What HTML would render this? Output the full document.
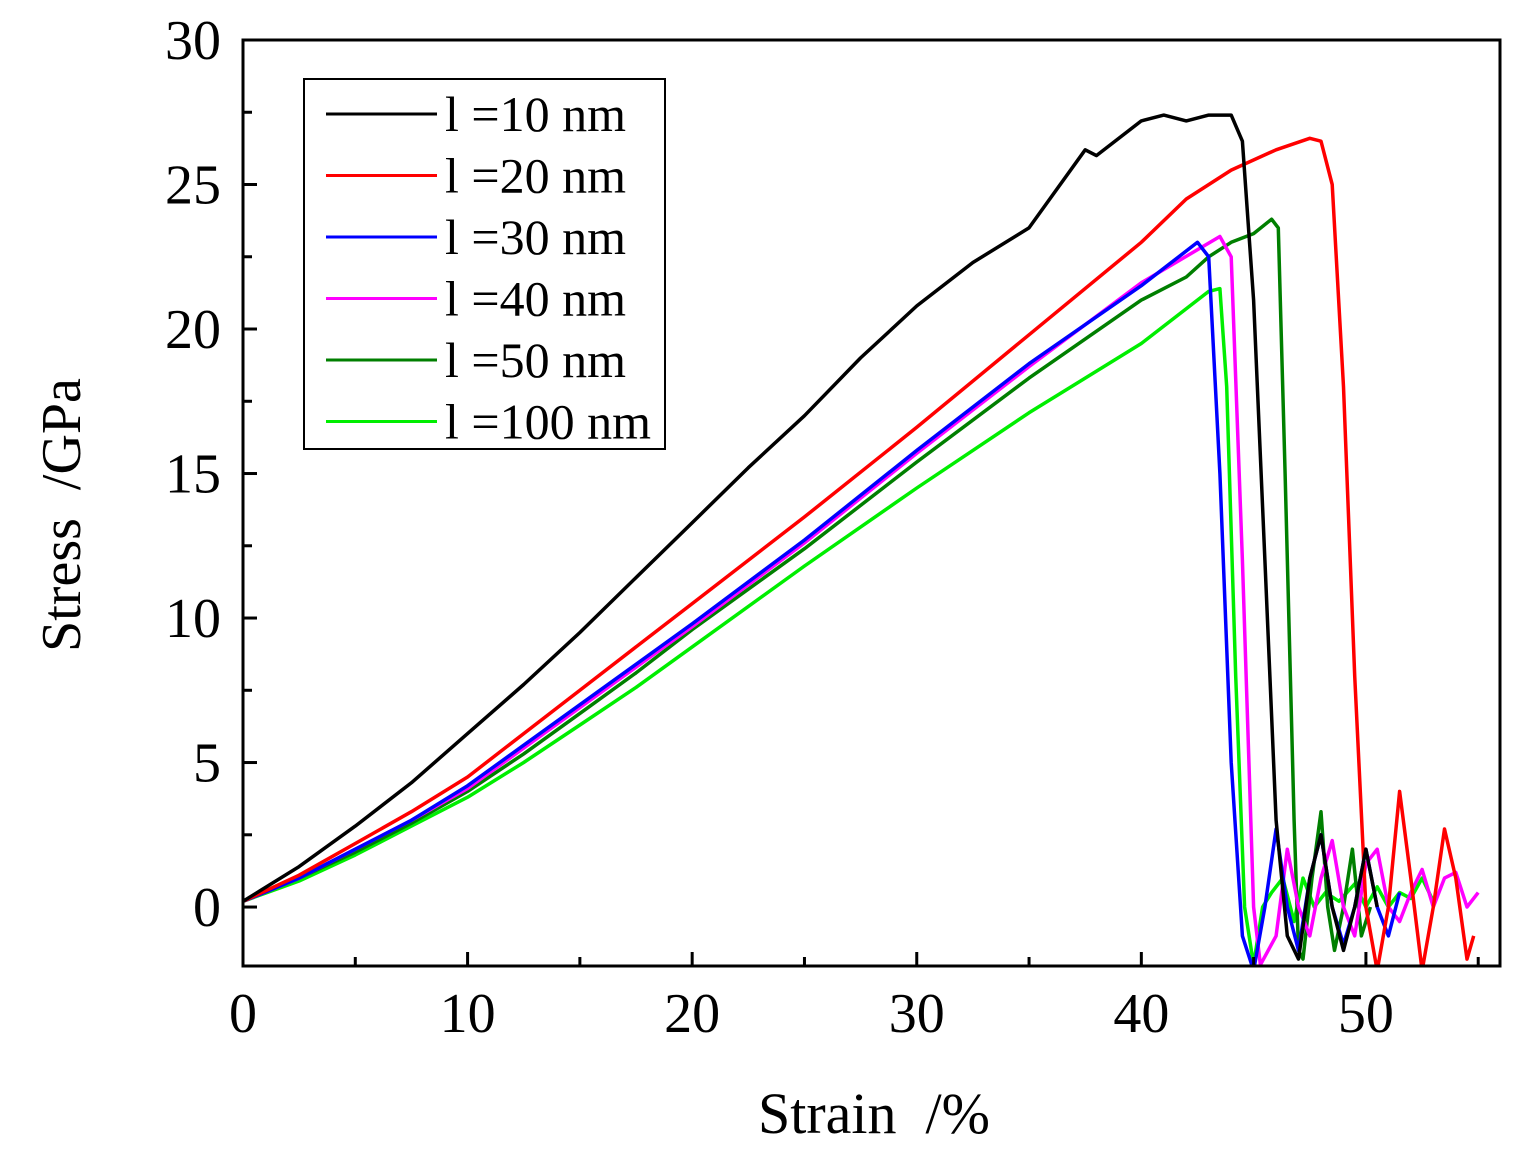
<!DOCTYPE html>
<html><head><meta charset="utf-8"><style>
body{margin:0;background:#fff;}
svg text{font-family:"Liberation Serif",serif;white-space:pre;}
</style></head><body>
<svg id="chart" width="1536" height="1166" xmlns="http://www.w3.org/2000/svg">
<defs><clipPath id="pc"><rect x="243" y="40" width="1257" height="926"/></clipPath></defs>
<g id="series" clip-path="url(#pc)"></g>
<rect x="243" y="40" width="1257" height="926" fill="none" stroke="#000" stroke-width="3"/>
<g id="axes"></g>
<text x="80" y="515" font-size="56" text-anchor="middle" transform="rotate(-90 80 515)" xml:space="preserve">Stress  /GPa</text>
<text x="874" y="1133" font-size="58" text-anchor="middle" xml:space="preserve">Strain  /%</text>
<rect x="304" y="79" width="361" height="370" fill="#fff" stroke="#000" stroke-width="2"/>
<g id="legend"></g>
</svg>
<script>
const seriesNames=["l =10 nm","l =20 nm","l =30 nm","l =40 nm","l =50 nm","l =100 nm"];
const seriesColors=["#000000","#ff0000","#0000ff","#ff00ff","#007f00","#00ee00"];
const s10=[[0,0.2],[2.5,1.4],[5,2.8],[7.5,4.3],[10,6],[12.5,7.7],[15,9.5],[17.5,11.4],[20,13.3],[22.5,15.2],[25,17],[27.5,19],[30,20.8],[32.5,22.3],[35,23.5],[37.5,26.2],[38,26],[40,27.2],[41,27.4],[42,27.2],[43,27.4],[44,27.4],[44.5,26.5],[45,21],[45.5,12],[46,3],[46.5,-1],[47,-1.8],[47.5,1],[48,2.5],[48.5,0],[49,-1.5],[49.5,0],[50,2],[50.5,0]];
const s20=[[0,0.2],[2.5,1.1],[5,2.2],[7.5,3.3],[10,4.5],[12.5,6],[15,7.5],[17.5,9],[20,10.5],[25,13.5],[30,16.6],[35,19.8],[40,23],[42,24.5],[44,25.5],[46,26.2],[47.5,26.6],[48,26.5],[48.5,25],[49,18],[49.5,8],[50,0],[50.5,-2.2],[51,0],[51.5,4],[52,1],[52.5,-2.2],[53,0],[53.5,2.7],[54,1],[54.5,-1.8],[54.8,-1]];
const s30=[[0,0.2],[2.5,1],[5,2],[7.5,3],[10,4.2],[12.5,5.6],[15,7],[17.5,8.4],[20,9.8],[25,12.7],[30,15.8],[35,18.8],[40,21.5],[42.5,23],[43,22.5],[43.5,15],[44,5],[44.5,-1],[45,-2.2],[45.5,0],[46,2.7],[46.5,0],[47,-1.5],[47.5,1],[48,2.5],[48.5,0],[49,-1.3],[49.5,0],[50,2],[50.5,0],[51,-1],[51.5,0.5]];
const s40=[[0,0.2],[2.5,1],[5,2],[7.5,3],[10,4.1],[12.5,5.5],[15,6.9],[17.5,8.3],[20,9.7],[25,12.6],[30,15.7],[35,18.7],[40,21.6],[43.5,23.2],[44,22.5],[44.5,12],[45,0],[45.3,-2],[46,-1],[46.5,2],[47,0],[47.5,-1],[48,1],[48.5,2.3],[49,0],[49.5,-1],[50,1.5],[50.5,2],[51,0],[51.5,-0.5],[52,0.5],[52.5,1.3],[53,0],[53.5,1],[54,1.2],[54.5,0],[55,0.5]];
const s50=[[0,0.2],[2.5,1],[5,1.9],[7.5,2.9],[10,4],[12.5,5.3],[15,6.7],[17.5,8.1],[20,9.6],[25,12.4],[30,15.4],[35,18.3],[40,21],[42,21.8],[43,22.5],[44,23],[45,23.3],[45.8,23.8],[46.1,23.5],[46.4,15],[46.8,3],[47,-1.5],[47.2,-1.8],[47.6,1],[48,3.3],[48.3,0],[48.6,-1.5],[49,0],[49.4,2],[49.8,-1],[50.2,0]];
const s100=[[0,0.2],[2.5,0.9],[5,1.8],[7.5,2.8],[10,3.8],[12.5,5],[15,6.3],[17.5,7.6],[20,9],[25,11.8],[30,14.5],[35,17.1],[40,19.5],[43,21.3],[43.5,21.4],[43.8,18],[44.2,8],[44.6,0],[45,-2],[45.4,0],[45.8,0.5],[46.3,1],[46.8,-0.5],[47.2,1],[47.7,0],[48.2,0.5],[48.8,0.2],[49.5,0.8],[50,0],[50.5,0.7],[51,0],[51.5,0.5],[52,0.3],[52.5,1],[53,0.2]];
const allSeries=[s10,s20,s30,s40,s50,s100];
const xTicks=[0,10,20,30,40,50];
const yTicks=[0,5,10,15,20,25,30];
const NS="http://www.w3.org/2000/svg";
const X0=243,X1=1500,Y0=40,Y1=966,XMIN=0,XMAX=55.97,YMIN=-2.04,YMAX=30;
const sx=v=>X0+(v-XMIN)/(XMAX-XMIN)*(X1-X0);
const sy=v=>Y1-(v-YMIN)/(YMAX-YMIN)*(Y1-Y0);
function mk(t,a,p){const e=document.createElementNS(NS,t);for(const k in a)e.setAttribute(k,a[k]);p.appendChild(e);return e;}
const gs=document.getElementById('series');
for(let i=allSeries.length-1;i>=0;i--){
  const d=allSeries[i].map((p,j)=>(j?'L':'M')+sx(p[0]).toFixed(1)+' '+sy(p[1]).toFixed(1)).join(' ');
  const path=mk('path',{d:d,fill:'none',stroke:seriesColors[i],'stroke-width':3.5,'stroke-linejoin':'round'},gs);
  
  
}
const ga=document.getElementById('axes');
for(let v=0;v<=55;v+=5){
  const maj=v%10===0;
  const t=mk('line',{x1:sx(v),x2:sx(v),y1:Y1,y2:Y1-(maj?14:9),stroke:'#000','stroke-width':3},ga);
  
  
}
xTicks.forEach(v=>{
  const t=mk('text',{x:sx(v),y:1032,'font-size':56,'text-anchor':'middle'},ga);t.textContent=v;
  
  
});
for(let v=0;v<=30;v+=2.5){
  const maj=v%5===0;
  const t=mk('line',{x1:X0,x2:X0+(maj?14:9),y1:sy(v),y2:sy(v),stroke:'#000','stroke-width':3},ga);
  
  
}
yTicks.forEach(v=>{
  const t=mk('text',{x:221,y:sy(v)+19,'font-size':56,'text-anchor':'end'},ga);t.textContent=v;
  
  
});
const gl=document.getElementById('legend');
seriesNames.forEach((n,i)=>{
  const y=114+i*61.5;
  const l=mk('line',{x1:326,x2:437,y1:y,y2:y,stroke:seriesColors[i],'stroke-width':3},gl);
  
  
  const t=mk('text',{x:445,y:y+17,'font-size':50},gl);t.textContent=n;
  
  
});
</script>
</body></html>
